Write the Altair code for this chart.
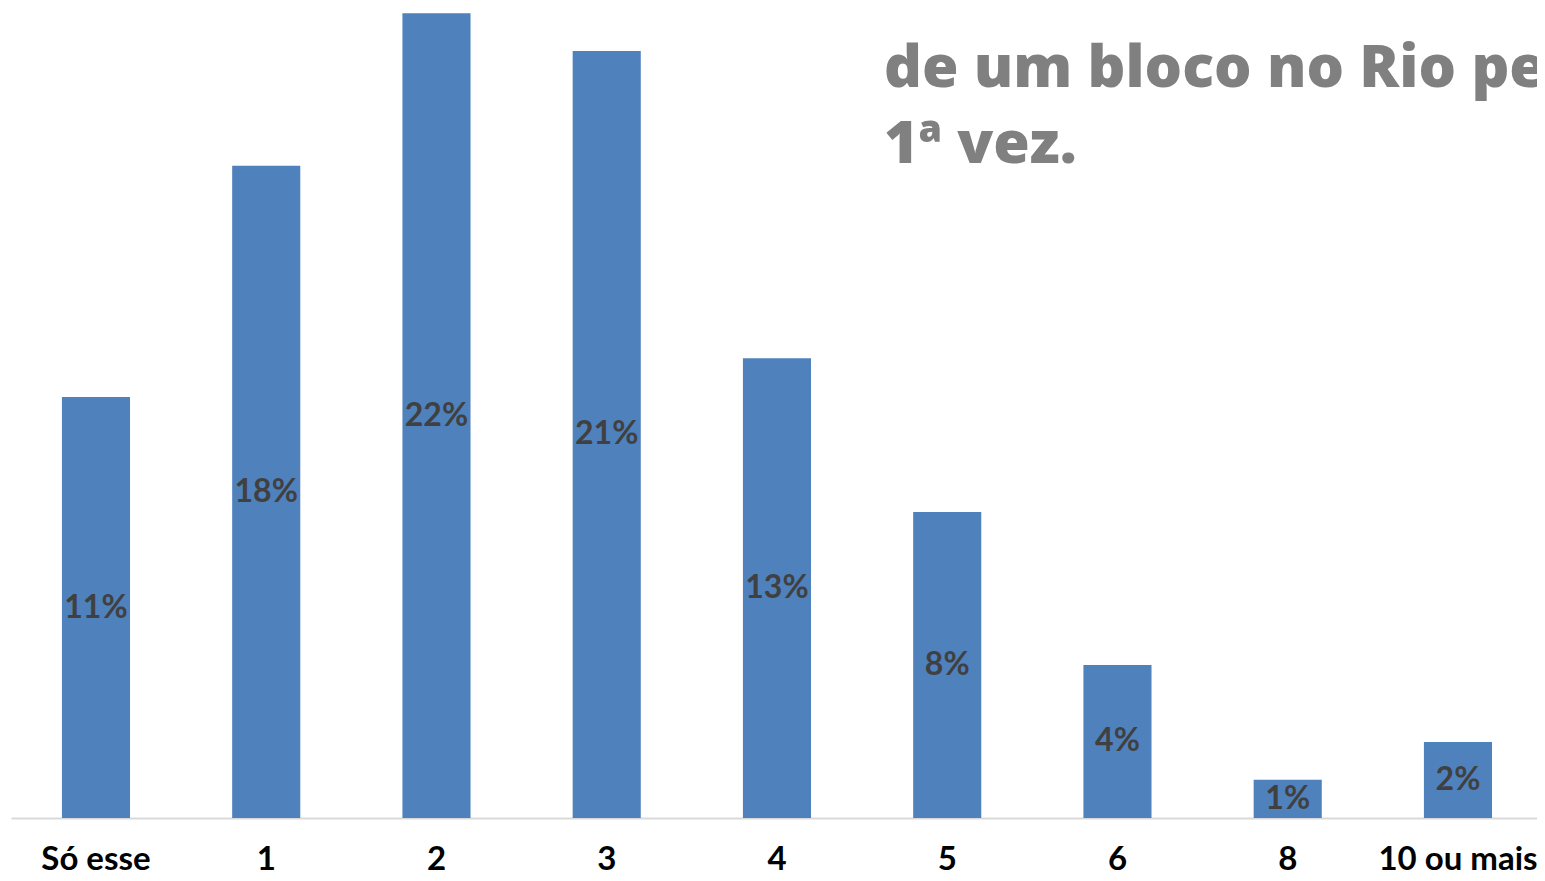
import altair as alt
import pandas as pd

categories = ["Só esse", "1", "2", "3", "4", "5", "6", "8", "10 ou mais"]
values = [11.47, 17.77, 21.93, 20.90, 12.53, 8.34, 4.17, 1.04, 2.07]
labels = ["11%", "18%", "22%", "21%", "13%", "8%", "4%", "1%", "2%"]
title_lines = ["de um bloco no Rio pela", "1ª vez."]

df = pd.DataFrame({"cat": categories, "val": values, "lab": labels})
df["mid"] = df["val"] / 2
tdf = pd.DataFrame({"line": title_lines, "i": [0, 1]})

xscale = alt.Scale(paddingInner=0.6, paddingOuter=0.2817, align=0.531)
x = alt.X("cat:N", sort=categories, title=None, scale=xscale,
          axis=alt.Axis(labelAngle=0, ticks=False, domainColor="#d9d9d9", domainWidth=2,
                        labelFont="Lato", labelFontWeight="bold", labelFontSize=33,
                        labelColor="#000000", labelPadding=25, grid=False))
yscale = alt.Scale(domain=[0, 22.07], nice=False, zero=True)

bars = alt.Chart(df).mark_bar(color="#4f81bd").encode(
    x=x,
    y=alt.Y("val:Q", scale=yscale, axis=None),
)
text = alt.Chart(df).mark_text(font="Lato", fontWeight="bold", fontSize=32,
                               color="#404040", baseline="middle").encode(
    x=alt.X("cat:N", sort=categories, scale=xscale),
    y=alt.Y("mid:Q", scale=yscale, axis=None),
    text="lab:N",
)
title = alt.Chart(tdf).mark_text(font="Open Sans", fontWeight=800, fontSize=59,
                                 color="#808080", align="left", baseline="alphabetic").encode(
    x=alt.value(873),
    y=alt.Y("i:Q", scale=alt.Scale(domain=[0, 1], range=[79, 155]), axis=None),
    text="line:N",
)

chart = alt.layer(bars, text, title).resolve_scale(y="independent").properties(
    width=1526, height=810,
    autosize=alt.AutoSizeParams(type="none"),
    padding={"left": 3, "top": 0, "right": 0, "bottom": 55},
).configure_view(stroke=None)

chart.save("out.html", embed_options={"renderer": "svg", "actions": False})
